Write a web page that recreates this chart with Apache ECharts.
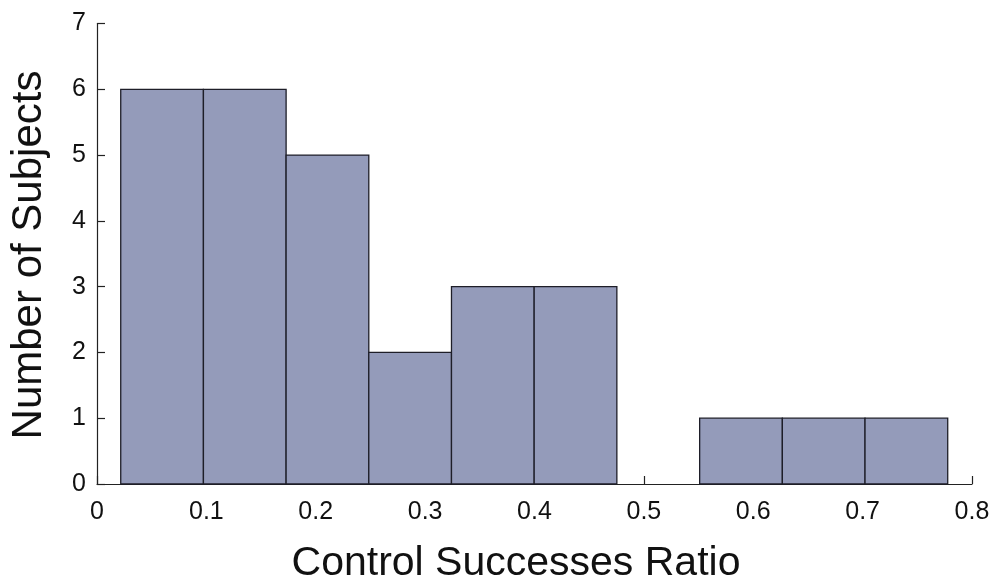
<!DOCTYPE html>
<html>
<head>
<meta charset="utf-8">
<script src="https://cdn.jsdelivr.net/npm/echarts@6/dist/echarts.min.js"></script>
<style>
  html, body { margin: 0; padding: 0; background: #ffffff; }
  #chart { width: 998px; height: 583px; }
</style>
</head>
<body>
<div id="chart"></div>
<script>
// Histogram bins: left/right edges and the number of subjects in each
const binStart = [0.0217, 0.0973, 0.1729, 0.2485, 0.3241, 0.3997, 0.4753, 0.5510, 0.6266, 0.7022];
const binEnd   = [0.0973, 0.1729, 0.2485, 0.3241, 0.3997, 0.4753, 0.5510, 0.6266, 0.7022, 0.7778];
const counts   = [6, 6, 5, 2, 3, 3, 0, 1, 1, 1];

const xTicks = [0, 0.1, 0.2, 0.3, 0.4, 0.5, 0.6, 0.7, 0.8];
const yTicks = [0, 1, 2, 3, 4, 5, 6, 7];

const xTitle = 'Control Successes Ratio';
const yTitle = 'Number of Subjects';

const FONT = '"Liberation Sans", Arial, Helvetica, sans-serif';

const data = binStart.map((s, i) => [s, binEnd[i], counts[i]]);

const chart = echarts.init(document.getElementById('chart'), null, { renderer: 'canvas' });

chart.setOption({
  animation: false,
  backgroundColor: '#ffffff',
  grid: { left: 97, right: 26, top: 23.5, bottom: 99, containLabel: false },
  xAxis: {
    type: 'value',
    min: xTicks[0],
    max: xTicks[xTicks.length - 1],
    interval: 0.1,
    axisLine: { show: true, lineStyle: { color: '#222', width: 1.2 } },
    axisTick: { show: true, inside: true, length: 8, lineStyle: { color: '#222', width: 1.2 } },
    axisLabel: {
      color: '#111', fontFamily: FONT, fontSize: 25, margin: 16,
      formatter: v => String(+v.toFixed(1))
    },
    splitLine: { show: false }
  },
  yAxis: {
    type: 'value',
    min: yTicks[0],
    max: yTicks[yTicks.length - 1],
    interval: 1,
    axisLine: { show: true, lineStyle: { color: '#222', width: 1.2 } },
    axisTick: { show: true, inside: true, length: 8, lineStyle: { color: '#222', width: 1.2 } },
    axisLabel: { color: '#111', fontFamily: FONT, fontSize: 25, margin: 11 },
    splitLine: { show: false }
  },
  graphic: [
    {
      type: 'text',
      x: 516, y: 543,
      style: { text: xTitle, fill: '#111', font: '41px ' + FONT, align: 'center', verticalAlign: 'top' }
    },
    {
      type: 'text',
      x: 8, y: 255,
      rotation: Math.PI / 2,
      style: { text: yTitle, fill: '#111', font: '42px ' + FONT, align: 'center', verticalAlign: 'top' }
    }
  ],
  series: [{
    type: 'custom',
    data: data,
    encode: { x: [0, 1], y: 2 },
    renderItem: function (params, api) {
      const h = api.value(2);
      if (!h) return null;
      const p0 = api.coord([api.value(0), h]);
      const p1 = api.coord([api.value(1), 0]);
      return {
        type: 'rect',
        shape: { x: p0[0], y: p0[1], width: p1[0] - p0[0], height: p1[1] - p0[1] },
        style: { fill: '#949bba', stroke: '#1e1e28', lineWidth: 1.3 }
      };
    }
  }]
});
</script>
</body>
</html>
